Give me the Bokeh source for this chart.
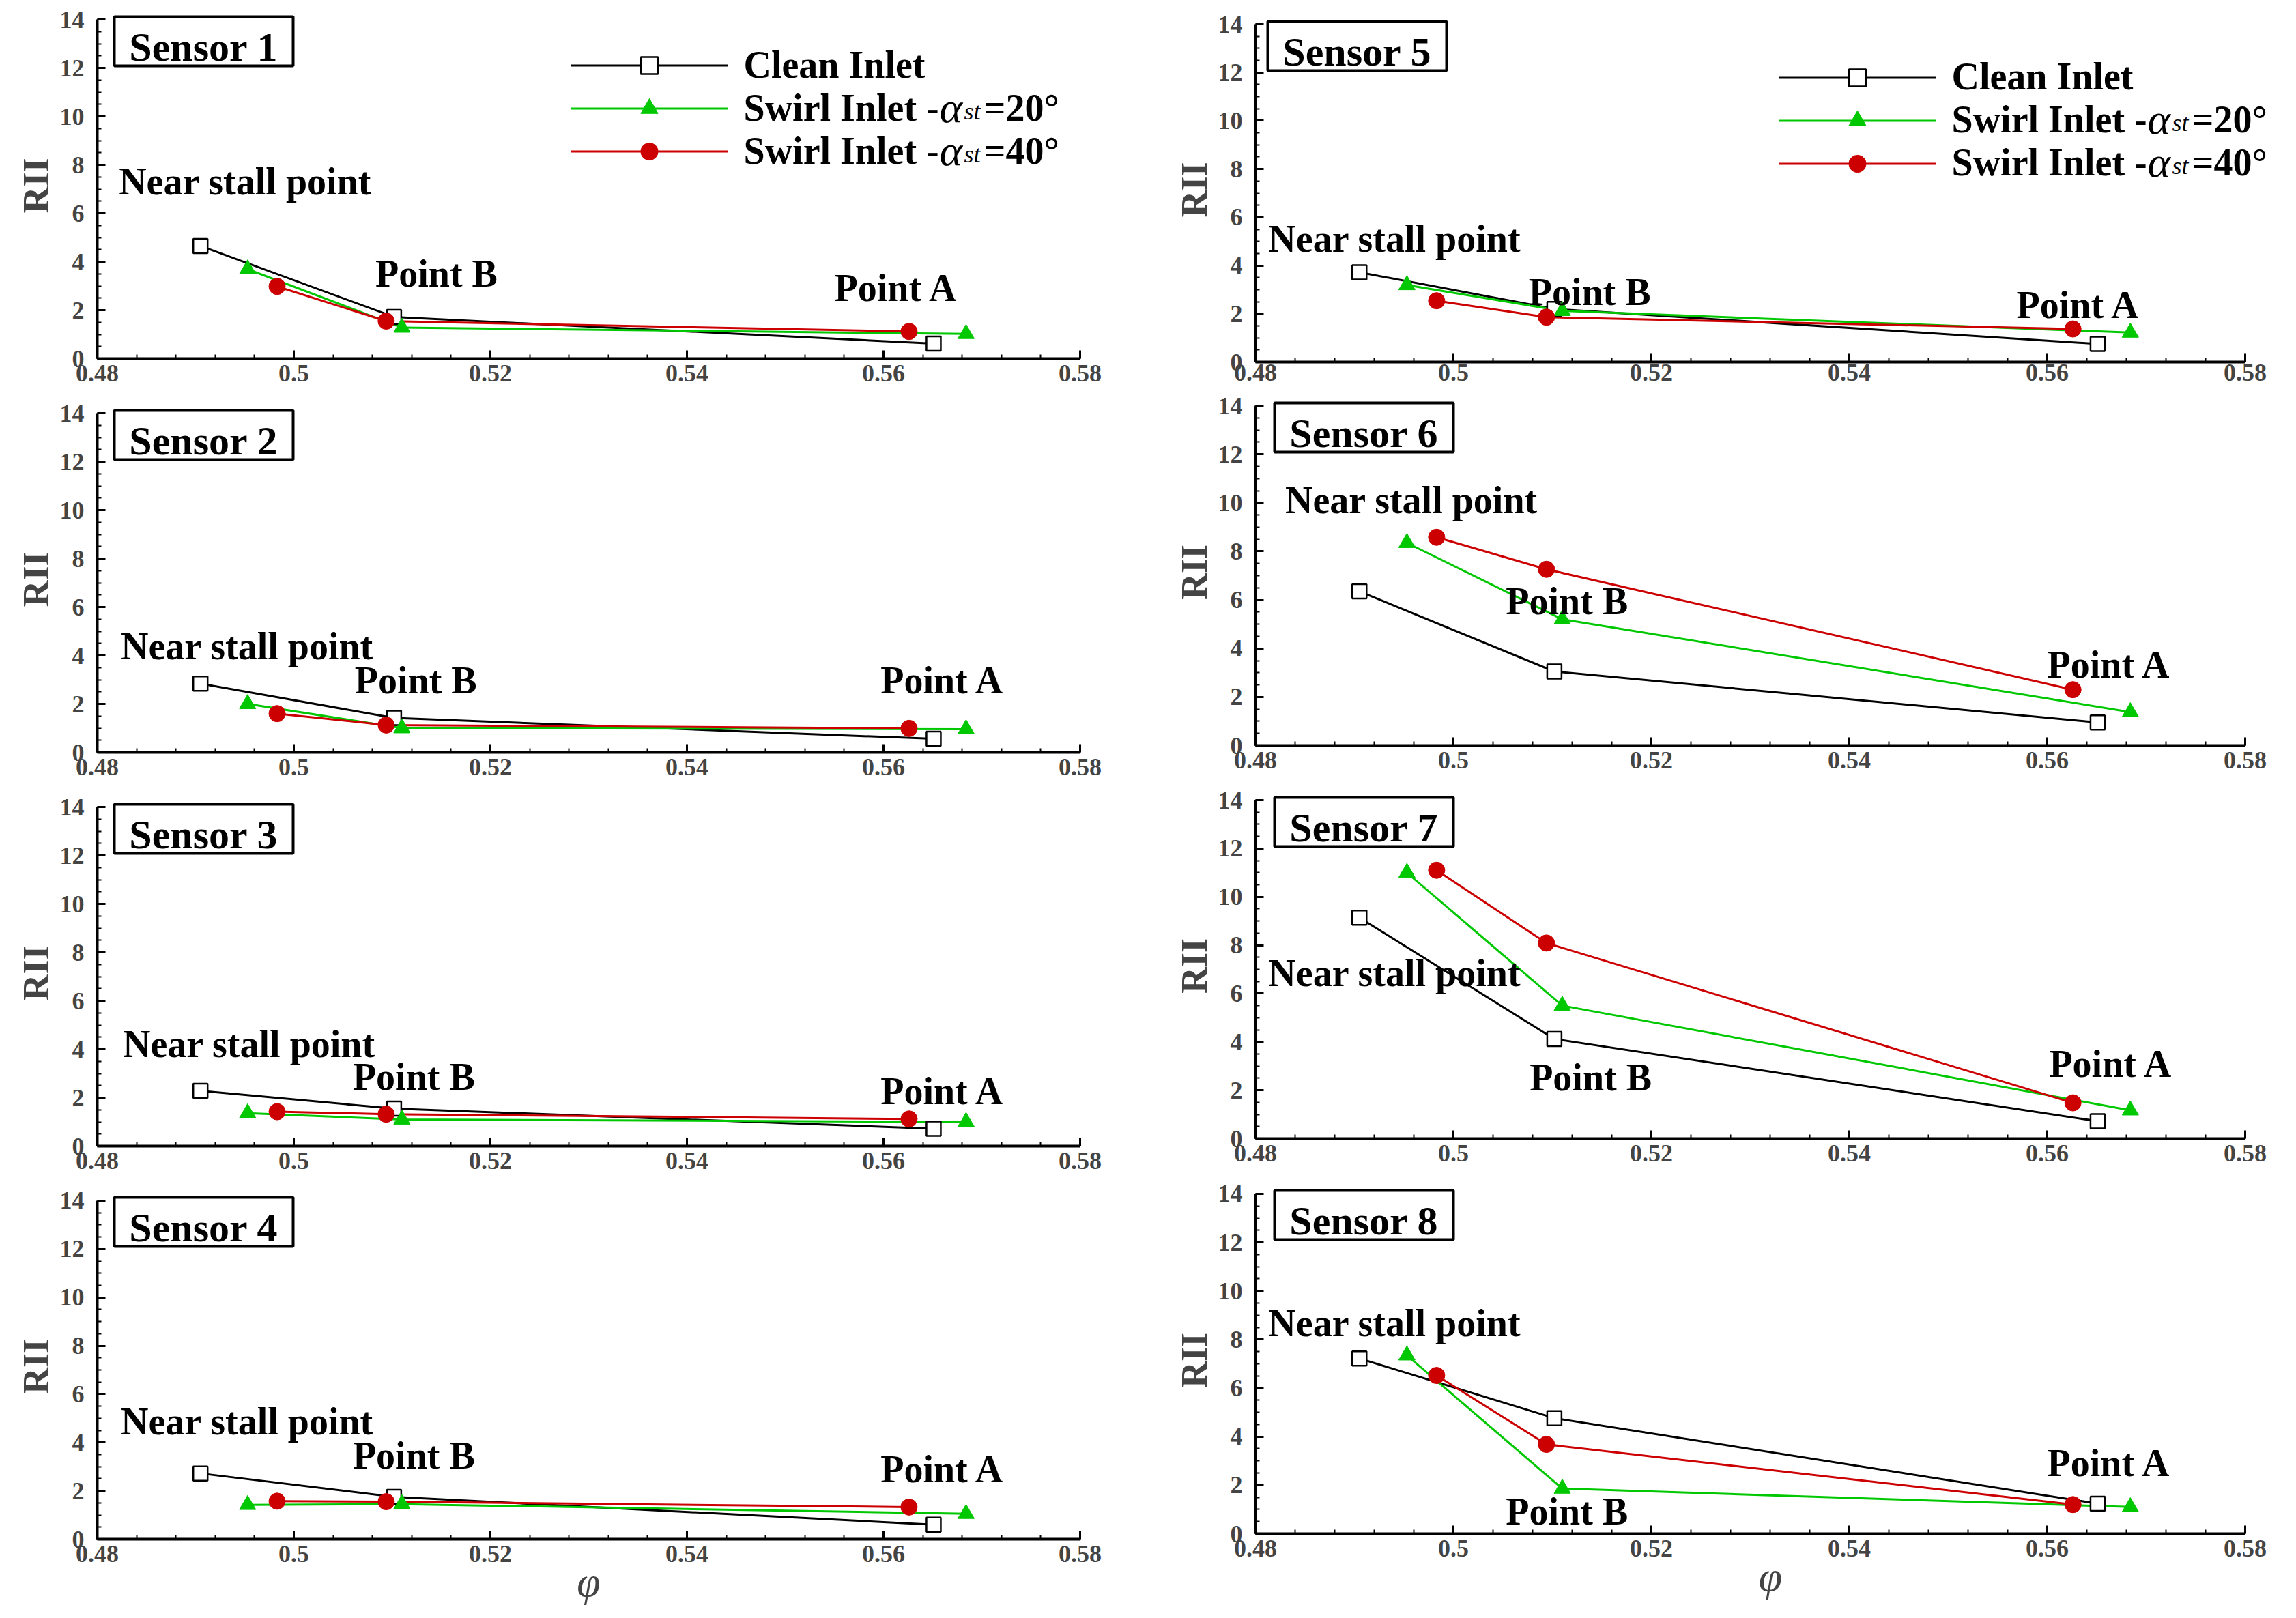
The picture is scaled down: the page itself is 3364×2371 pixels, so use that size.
from bokeh.plotting import figure
from bokeh.layouts import row, column
from bokeh.models import (Range1d, SingleIntervalTicker, NumeralTickFormatter, Label,
                          BoxAnnotation, Legend, LegendItem)
from bokeh.embed import file_html
from bokeh.resources import INLINE

FONT = "Liberation Serif"

# flow coefficient of the three operating points (near stall, B, A)
phi_clean = [0.4905, 0.5102, 0.5651]
phi_swirl20 = [0.4953, 0.5110, 0.5684]
phi_swirl40 = [0.4983, 0.5094, 0.5626]

# RII per sensor (1..8)
rii_clean = [
    [4.65, 1.72, 0.62],
    [2.84, 1.42, 0.56],
    [2.28, 1.55, 0.72],
    [2.72, 1.75, 0.60],
    [3.72, 2.20, 0.75],
    [6.35, 3.05, 0.95],
    [9.14, 4.12, 0.72],
    [7.22, 4.76, 1.24],
]
rii_swirl20 = [
    [3.69, 1.28, 1.02],
    [2.00, 1.00, 0.96],
    [1.36, 1.10, 1.00],
    [1.42, 1.45, 1.05],
    [3.19, 2.12, 1.22],
    [8.35, 5.20, 1.38],
    [11.00, 5.50, 1.17],
    [7.35, 1.86, 1.10],
]
rii_swirl40 = [
    [2.98, 1.55, 1.12],
    [1.60, 1.13, 0.99],
    [1.42, 1.32, 1.12],
    [1.57, 1.55, 1.33],
    [2.54, 1.86, 1.37],
    [8.58, 7.26, 2.30],
    [11.10, 8.09, 1.48],
    [6.52, 3.68, 1.20],
]

sensor_names = ["Sensor %d" % (i + 1) for i in range(8)]
point_names = ["Near stall point", "Point B", "Point A"]

# where the point names sit (left edge, baseline) in data units
near_stall_xy = [(0.4822, 6.97), (0.4824, 4.05), (0.4826, 3.87), (0.4824, 4.52),
                 (0.4813, 4.77), (0.4830, 9.78), (0.4813, 6.50), (0.4813, 8.34)]
point_b_xy = [(0.5083, 3.18), (0.5062, 2.64), (0.5060, 2.52), (0.5060, 3.12),
              (0.5076, 2.55), (0.5053, 5.62), (0.5077, 2.20), (0.5053, 0.59)]
point_a_xy = [(0.5550, 2.57), (0.5597, 2.64), (0.5597, 1.93), (0.5597, 2.56),
              (0.5569, 2.03), (0.5600, 3.00), (0.5602, 2.74), (0.5600, 2.58)]

GREEN = "#00c800"
RED = "#cc0000"

# panel geometry: (border_top, frame_height, border_bottom)
left_geom = [(28, 497, 52), (28, 497, 52), (28, 497, 52), (28, 497, 98)]
right_geom = [(35, 495, 44), (20, 498, 60), (20, 496, 61), (20, 499, 98)]
box_offset = [25, 25, 25, 25, 18, 28, 28, 28]
EXTRA_TOP = 10      # frame reaches a little above 14 so the boxes are not clipped
BASE_SHIFT = 12     # svg text sits on its descent line, lift it to the baseline


def style_axes(p, bottom_row, x_standoff):
    for ax in (p.xaxis[0], p.yaxis[0]):
        ax.axis_line_width = 4
        ax.major_tick_in = 12
        ax.major_tick_out = 0
        ax.minor_tick_in = 6
        ax.minor_tick_out = 0
        ax.major_tick_line_width = 3
        ax.minor_tick_line_width = 2
        ax.major_label_text_font = FONT
        ax.major_label_text_font_style = "bold"
        ax.major_label_text_font_size = "36px"
        ax.axis_label_text_font = FONT
    p.xaxis.ticker = SingleIntervalTicker(interval=0.02, num_minor_ticks=5)
    p.xaxis.formatter = NumeralTickFormatter(format="0.[00]")
    p.xaxis.major_label_standoff = x_standoff
    p.xaxis.bounds = (0.48, 0.58)
    p.yaxis.ticker = SingleIntervalTicker(interval=2, num_minor_ticks=4)
    p.yaxis.major_label_standoff = 19
    p.yaxis.bounds = (0, 14)
    p.yaxis.axis_label = "RII"
    p.yaxis.axis_label_text_font_style = "bold"
    p.yaxis.axis_label_text_font_size = "54px"
    p.yaxis.axis_label_standoff = 2
    if bottom_row:
        p.xaxis.axis_label = "φ"
        p.xaxis.axis_label_text_font_style = "italic"
        p.xaxis.axis_label_text_font_size = "62px"
        p.xaxis.axis_label_standoff = -8


def text_label(x, y, txt, size="56px", style="bold", units="screen"):
    return Label(x=x, y=y, x_units=units, y_units=units, text=txt,
                 text_font=FONT, text_font_style=style, text_font_size=size,
                 text_align="left", text_baseline="alphabetic", text_color="black")


def make_panel(i):
    right = i >= 4
    bt, fh, bb = (right_geom if right else left_geom)[i % 4]
    bl, fw, br = (147, 1450, 59) if right else (142, 1440, 110)
    # the right column frame runs out to the page edge so the legend text fits
    fw_full = fw + br if right else fw
    br_full = 0 if right else br
    px_per_unit = fh / 14.0
    p = figure(width=bl + fw_full + br_full, height=bt + fh + bb,
               x_range=Range1d(0.48, 0.48 + 0.1 * fw_full / fw),
               y_range=Range1d(0, 14 * (fh + EXTRA_TOP) / fh),
               output_backend="svg", toolbar_location=None,
               min_border_left=bl, min_border_right=br_full,
               min_border_top=bt - EXTRA_TOP, min_border_bottom=bb)
    p.outline_line_color = None
    p.grid.visible = False
    p.background_fill_color = "white"
    style_axes(p, i % 4 == 3, 3 if i == 4 else 9)

    l0 = p.line(phi_clean, rii_clean[i], line_color="black", line_width=3)
    l1 = p.line(phi_swirl20, rii_swirl20[i], line_color=GREEN, line_width=3)
    l2 = p.line(phi_swirl40, rii_swirl40[i], line_color=RED, line_width=3)
    s0 = p.scatter(phi_clean, rii_clean[i], marker="square", size=21,
                   fill_color="white", line_color="black", line_width=2.5)
    s1 = p.scatter(phi_swirl20, rii_swirl20[i], marker="triangle", size=24,
                   fill_color=GREEN, line_color=GREEN)
    s2 = p.scatter(phi_swirl40, rii_swirl40[i], marker="circle", size=24,
                   fill_color=RED, line_color=RED)

    for (x, y), name in zip([near_stall_xy[i], point_b_xy[i], point_a_xy[i]], point_names):
        p.add_layout(text_label(x, y + BASE_SHIFT / px_per_unit, name, units="data"))

    off = box_offset[i]
    p.add_layout(BoxAnnotation(left=off, right=off + 262, top=fh + 4, bottom=fh + 4 - 72,
                               left_units="screen", right_units="screen",
                               top_units="screen", bottom_units="screen",
                               fill_color=None, fill_alpha=0, line_color="black",
                               line_alpha=1, line_dash="solid", line_width=4))
    lab = Label(x=off + 131, y=fh - 53 + 13, x_units="screen", y_units="screen",
                text=sensor_names[i], text_font=FONT, text_font_style="bold",
                text_font_size="60px", text_align="center", text_baseline="alphabetic",
                text_color="black")
    p.add_layout(lab)

    if i in (0, 4):
        first = 71 if right else 61
        gx = 767 if right else 694
        drop = 7 if right else 6
        items = [LegendItem(label=" ", renderers=[l0, s0]),
                 LegendItem(label=" ", renderers=[l1, s1]),
                 LegendItem(label=" ", renderers=[l2, s2])]
        leg = Legend(items=items, location=(gx, int(fh - (first - 31.5 + 189)) - drop),
                     orientation="vertical", glyph_width=230, glyph_height=63,
                     label_height=63, label_width=0, spacing=0, padding=0, margin=0,
                     label_standoff=0, border_line_color=None, background_fill_alpha=0,
                     label_text_font_size="10px")
        p.add_layout(leg)
        tx = gx + 253
        base = [fh - (first + 16 + 63 * k) + 11 for k in range(3)]
        p.add_layout(text_label(tx, base[0], "Clean Inlet"))
        for k, deg in ((1, "=20°"), (2, "=40°")):
            p.add_layout(text_label(tx, base[k], "Swirl Inlet -"))
            p.add_layout(text_label(tx + 287, base[k], "α", size="64px", style="italic"))
            p.add_layout(text_label(tx + 323, base[k] - 5, "st", size="36px", style="italic"))
            p.add_layout(text_label(tx + 352, base[k], deg))
    return p


panels = [make_panel(i) for i in range(8)]
layout = row(column(*panels[:4]), column(*panels[4:]))

open("out.html", "w").write(file_html(layout, INLINE))
